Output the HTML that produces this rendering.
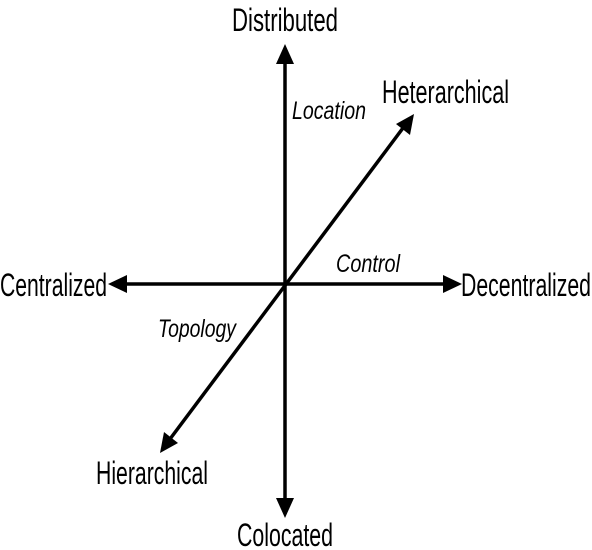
<!DOCTYPE html>
<html><head><style>html,body{margin:0;padding:0;background:#fff}svg{display:block}</style></head>
<body>
<svg width="592" height="550" viewBox="0 0 592 550" xmlns="http://www.w3.org/2000/svg" font-family="'Liberation Sans Narrow','Liberation Sans',sans-serif" fill="#000">
<g stroke="#000" stroke-width="3.5">
<line x1="285" y1="62" x2="285" y2="500"/>
<line x1="125" y1="284" x2="445" y2="284"/>
<line x1="170" y1="439" x2="403" y2="128"/>
</g>
<polygon points="285,44 276,64 294,64"/>
<polygon points="285,518 276,498 294,498"/>
<polygon points="108,284 127,275 127,293"/>
<polygon points="462,284 443,275 443,293"/>
<polygon points="414,114 396,124 410,135"/>
<polygon points="160,453 164,432 178,443"/>
<g font-size="32">
<text x="232" y="31" textLength="106" lengthAdjust="spacingAndGlyphs">Distributed</text>
<text x="382" y="103" textLength="127" lengthAdjust="spacingAndGlyphs">Heterarchical</text>
<text x="0" y="296" textLength="107" lengthAdjust="spacingAndGlyphs">Centralized</text>
<text x="461" y="296" textLength="130" lengthAdjust="spacingAndGlyphs">Decentralized</text>
<text x="96" y="484" textLength="112" lengthAdjust="spacingAndGlyphs">Hierarchical</text>
<text x="237" y="546" textLength="96" lengthAdjust="spacingAndGlyphs">Colocated</text>
</g>
<g font-size="25" font-style="italic">
<text x="292" y="119" textLength="74" lengthAdjust="spacingAndGlyphs">Location</text>
<text x="336" y="272" textLength="64" lengthAdjust="spacingAndGlyphs">Control</text>
<text x="158" y="337" textLength="78" lengthAdjust="spacingAndGlyphs">Topology</text>
</g>
</svg>
</body></html>
